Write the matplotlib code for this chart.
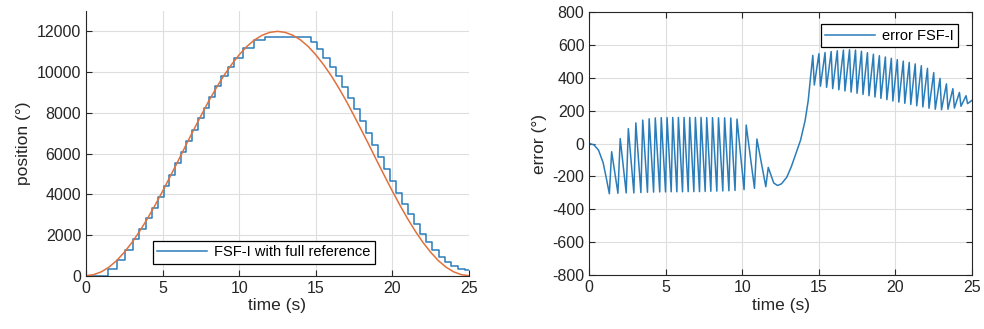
import numpy as np
import matplotlib
matplotlib.use("Agg")
import matplotlib.pyplot as plt

plt.rcParams["font.family"] = ["Liberation Sans", "DejaVu Sans"]
plt.rcParams["axes.unicode_minus"] = False

BLUE = "#2b7db9"
ORANGE = "#e0703c"
DARK = "#262626"

# reference trajectory, sampled every 0.5 s
ref_time = np.arange(0, 25.5, 0.5)
ref_pos = [0, 50, 190, 420, 740, 1150, 1630, 2180, 2790, 3450, 4150, 4880, 5620,
           6380, 7120, 7850, 8560, 9220, 9830, 10370, 10850, 11260, 11580, 11810,
           11950, 12000, 11950, 11810, 11580, 11260, 10850, 10370, 9830, 9220,
           8560, 7850, 7120, 6380, 5620, 4880, 4150, 3450, 2790, 2180, 1630, 1150,
           740, 420, 190, 50, 0]

# FSF-I staircase: time each step settles and the level it holds
step_time = [0, 1.46, 2.02, 2.55, 3.04, 3.49, 3.91, 4.31, 4.70, 5.08, 5.45, 5.82,
             6.19, 6.56, 6.93, 7.30, 7.67, 8.05, 8.44, 8.84, 9.24, 9.65, 10.25,
             10.95, 11.69, 14.70, 15.10, 15.50, 15.90, 16.30, 16.70, 17.10, 17.49,
             17.88, 18.27, 18.66, 19.05, 19.44, 19.83, 20.22, 20.61, 21.00, 21.39,
             21.79, 22.19, 22.60, 23.01, 23.43, 23.85, 24.28, 24.71, 25.0]
step_pos = [0, 350, 787, 1280, 1793, 2306, 2815, 3338, 3880, 4419, 4960, 5511,
            6067, 6625, 7178, 7723, 8254, 8780, 9295, 9798, 10259, 10676, 11180,
            11573, 11740, 11461, 11111, 10715, 10273, 9792, 9273, 8732, 8173,
            7600, 7012, 6418, 5822, 5230, 4649, 4083, 3539, 3024, 2537,
            2068, 1647, 1264, 938, 671, 464, 324, 258, 262]

# tracking error: turning points of the oscillation
err_time = [0, 0.3, 0.6, 0.9, 1.1, 1.31, 1.46, 1.87, 2.02, 2.41, 2.55, 2.91, 3.04,
            3.37, 3.49, 3.80, 3.91, 4.20, 4.31, 4.60, 4.70, 4.98, 5.08, 5.35, 5.45,
            5.72, 5.82, 6.09, 6.19, 6.46, 6.56, 6.83, 6.93, 7.20, 7.30, 7.57, 7.67,
            7.94, 8.05, 8.33, 8.44, 8.72, 8.84, 9.12, 9.24, 9.52, 9.65, 10.11, 10.25,
            10.79, 10.95, 11.53, 11.69, 12.05, 12.30, 12.55, 12.9, 13.2, 13.5, 13.8,
            14.1, 14.3, 14.45,
            14.60, 14.70, 15.00, 15.10, 15.40, 15.50, 15.80, 15.90, 16.20, 16.30,
            16.60, 16.70, 17.00, 17.10, 17.39, 17.49, 17.78, 17.88, 18.17, 18.27,
            18.56, 18.66, 18.95, 19.05, 19.34, 19.44, 19.73, 19.83, 20.12, 20.22,
            20.51, 20.61, 20.90, 21.00, 21.29, 21.39, 21.69, 21.79, 22.09, 22.19,
            22.50, 22.60, 22.91, 23.01, 23.33, 23.43, 23.75, 23.85, 24.18, 24.28,
            24.61, 24.71, 25.0]
err_val = [0, -8, -40, -115, -205, -305, -50, -302, 30, -300, 90, -300, 125,
           -298, 142, -296, 150, -295, 155, -294, 157, -294, 157, -293, 158,
           -293, 158, -293, 158, -292, 158, -292, 158, -292, 158, -291, 157,
           -290, 157, -289, 156, -288, 156, -287, 155, -285, 148, -280, 112,
           -272, 27, -262, -145, -240, -255, -245, -205, -140, -60, 20,
           140, 260, 400,
           535, 355, 545, 348, 552, 341, 558, 333, 563, 326,
           567, 319, 569, 312, 567, 305, 560, 298, 551, 290,
           542, 282, 533, 274, 525, 266, 517, 258, 509, 251,
           500, 244, 492, 237, 483, 229, 472, 222, 456, 214,
           430, 208, 395, 205, 362, 208, 333, 215, 310, 226,
           290, 242, 262]


def style_axes(ax, box):
    ax.grid(True, color="#dedede", linewidth=0.8)
    ax.set_axisbelow(True)
    ax.tick_params(direction="in", length=4, width=0.8, labelsize=11.5,
                   colors=DARK, top=box, right=box)
    for side, spine in ax.spines.items():
        spine.set_color(DARK)
        spine.set_linewidth(0.8)
        if side in ("top", "right"):
            spine.set_visible(box)
    ax.set_xlabel("time (s)", fontsize=12.5, color=DARK, labelpad=2)


fig = plt.figure(figsize=(9.84, 3.29), dpi=100)
ax1 = fig.add_axes([86 / 984, 1 - 275.7 / 329, 383 / 984, 264.7 / 329])
ax2 = fig.add_axes([589.3 / 984, 1 - 275.3 / 329, 382.7 / 984, 263.6 / 329])

line, = ax1.step(step_time, step_pos, where="post", color=BLUE, linewidth=1.1)
ax1.plot(ref_time, ref_pos, color=ORANGE, linewidth=1.1)
ax1.set_xlim(0, 25)
ax1.set_ylim(0, 13000)
ax1.set_xticks(np.arange(0, 26, 5))
ax1.set_yticks(np.arange(0, 12001, 2000))
style_axes(ax1, box=False)
ax1.set_ylabel("position (°)", fontsize=12.5, color=DARK)
leg = ax1.legend([line], ["FSF-I with full reference"], loc="lower left",
                 bbox_to_anchor=(0.174, 0.045), borderaxespad=0, fontsize=10.5,
                 fancybox=False, framealpha=1, edgecolor="black",
                 handlelength=3.4, borderpad=0.3, handletextpad=0.5)
leg.get_frame().set_linewidth(0.9)

ax2.plot(err_time, err_val, color=BLUE, linewidth=1.1, label="error FSF-I")
ax2.set_xlim(0, 25)
ax2.set_ylim(-800, 800)
ax2.set_xticks(np.arange(0, 26, 5))
ax2.set_yticks(np.arange(-800, 801, 200))
style_axes(ax2, box=True)
ax2.set_ylabel("error (°)", fontsize=12.5, color=DARK)
leg2 = ax2.legend(loc="upper right", bbox_to_anchor=(0.964, 0.952),
                  borderaxespad=0, fontsize=10.5, fancybox=False, framealpha=1,
                  edgecolor="black", handlelength=3.4, borderpad=0.3,
                  handletextpad=0.5)
leg2.get_frame().set_linewidth(0.9)

fig.savefig("out.png", dpi=100)
